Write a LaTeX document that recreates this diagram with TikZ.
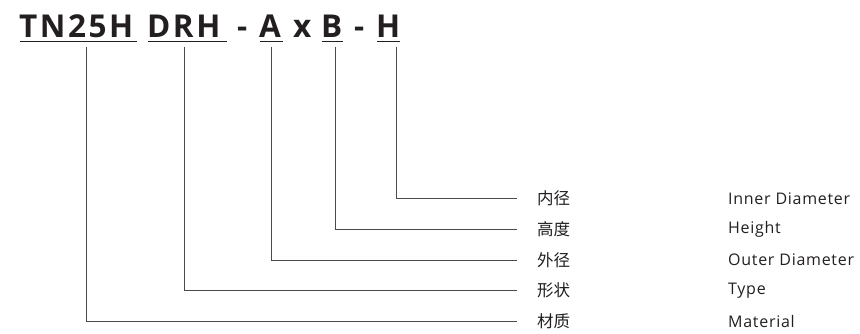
\documentclass[tikz,border=0pt]{standalone}
\usepackage{fontspec}
\setmainfont[LetterSpace=4.5]{Open Sans}
\newfontfamily\cjk{Noto Sans CJK SC}
\newfontfamily\ttl[LetterSpace=8]{Open Sans Bold}
\definecolor{ink}{HTML}{231F20}
\definecolor{wire}{HTML}{4A4A4A}
\tikzset{
  titletext/.style={anchor=base west,inner sep=0pt,font=\ttl\fontsize{31.5}{32}\selectfont,text=ink},
  cnlabel/.style={anchor=west,inner sep=0pt,font=\cjk\fontsize{16.5}{17}\selectfont,text=ink},
  enlabel/.style={anchor=west,inner sep=0pt,font=\fontsize{16}{17}\selectfont,text=ink},
  uline/.style={draw=ink,line width=1.8pt},
  wireline/.style={draw=wire,line width=1pt}
}
\begin{document}
\begin{tikzpicture}[x=1pt,y=-1pt]
\useasboundingbox (0,0) rectangle (860,333);
% title parts
\node[titletext] (t1) at (19,37) {TN25H};
\node[titletext] (t2) at (147,37) {DRH};
\node[titletext] (t3) at (259,37) {A};
\node[titletext] (x1) at (293,37) {x};
\node[titletext] (t4) at (321,37) {B};
\node[titletext] (t5) at (376,37) {H};
\node[titletext] (d1) at (237,37) {-};
\node[titletext] (d2) at (354,37) {-};
% underlines
\draw[uline] (20,41.5) -- (137,41.5);
\draw[uline] (148,41.5) -- (227,41.5);
\draw[uline] (260,41.5) -- (283,41.5);
\draw[uline] (322,41.5) -- (343,41.5);
\draw[uline] (377,41.5) -- (400,41.5);
% labels
\node[cnlabel] (c1) at (537,198.5) {内径};
\node[cnlabel] (c2) at (537,229) {高度};
\node[cnlabel] (c3) at (537,260) {外径};
\node[cnlabel] (c4) at (537,290.5) {形状};
\node[cnlabel] (c5) at (537,321) {材质};
\node[enlabel] (e1) at (728,198.5) {Inner Diameter};
\node[enlabel] (e2) at (728,229) {Height};
\node[enlabel] (e3) at (728,260) {Outer Diameter};
\node[enlabel] (e4) at (728,290.5) {Type};
\node[enlabel] (e5) at (728,321) {Material};
% connector starts
\coordinate (v1) at (86,47);
\coordinate (v2) at (184,47);
\coordinate (v3) at (271,47);
\coordinate (v4) at (335,47);
\coordinate (v5) at (396,47);
\draw[wireline] (v5) |- ([xshift=-20pt]c1.west);
\draw[wireline] (v4) |- ([xshift=-20pt]c2.west);
\draw[wireline] (v3) |- ([xshift=-20pt]c3.west);
\draw[wireline] (v2) |- ([xshift=-20pt]c4.west);
\draw[wireline] (v1) |- ([xshift=-20pt]c5.west);
\end{tikzpicture}
\end{document}
